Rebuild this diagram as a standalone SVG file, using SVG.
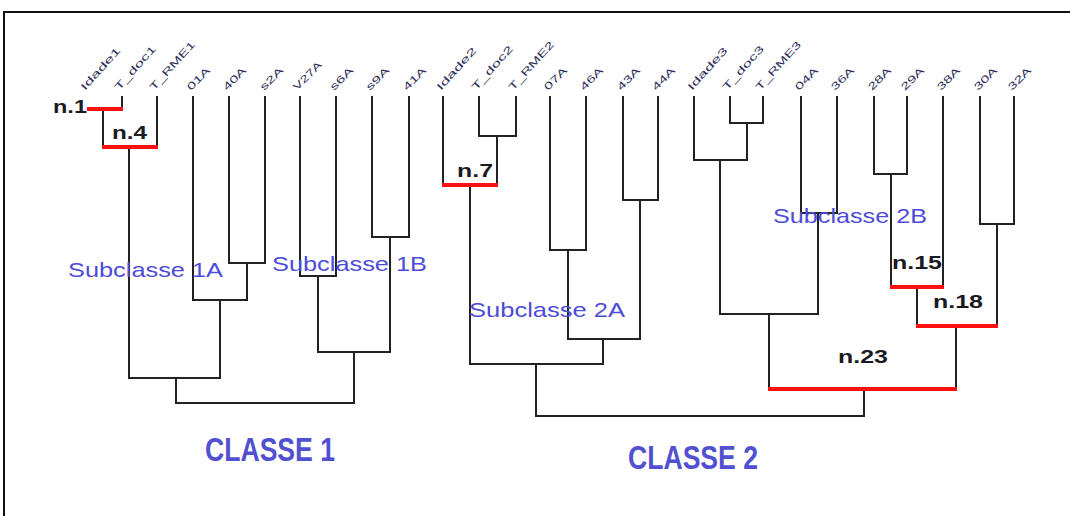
<svg xmlns="http://www.w3.org/2000/svg" width="1070" height="516" viewBox="0 0 1070 516">
<style>
.frame{fill:none;stroke:#111;stroke-width:2}
.br{fill:none;stroke:#222;stroke-width:2;stroke-linejoin:miter;stroke-linecap:square}
.red{fill:none;stroke:#ff1010;stroke-width:4}
.leaf{font-family:"Liberation Sans",Arial,sans-serif;font-size:10px;fill:#2e2e5a}
.node{font-family:"Liberation Sans",Arial,sans-serif;font-size:18px;font-weight:bold;fill:#1a1a22}
.sub{font-family:"Liberation Sans",Arial,sans-serif;font-size:21px;fill:#4c4cd8}
.cls{font-family:"Liberation Sans",Arial,sans-serif;font-size:34px;font-weight:bold;fill:#5050d0}
</style>
<rect class="frame" x="4" y="12" width="1090" height="530"/>
<g id="leaf-labels">
<g id="leaf-Idade1"><text class="leaf" transform="translate(85,91) rotate(-48)" textLength="54" lengthAdjust="spacingAndGlyphs">Idade1</text></g>
<g id="leaf-T_doc1"><text class="leaf" transform="translate(119,91) rotate(-48)" textLength="56" lengthAdjust="spacingAndGlyphs">T_doc1</text></g>
<g id="leaf-T_RME1"><text class="leaf" transform="translate(154,91) rotate(-48)" textLength="62" lengthAdjust="spacingAndGlyphs">T_RME1</text></g>
<g id="leaf-01A"><text class="leaf" transform="translate(191,91) rotate(-45)" textLength="28" lengthAdjust="spacingAndGlyphs">01A</text></g>
<g id="leaf-40A"><text class="leaf" transform="translate(227,91) rotate(-45)" textLength="28" lengthAdjust="spacingAndGlyphs">40A</text></g>
<g id="leaf-s2A"><text class="leaf" transform="translate(264,91) rotate(-45)" textLength="28" lengthAdjust="spacingAndGlyphs">s2A</text></g>
<g id="leaf-V27A"><text class="leaf" transform="translate(297,91) rotate(-45)" textLength="36" lengthAdjust="spacingAndGlyphs">V27A</text></g>
<g id="leaf-s6A"><text class="leaf" transform="translate(334,91) rotate(-45)" textLength="28" lengthAdjust="spacingAndGlyphs">s6A</text></g>
<g id="leaf-s9A"><text class="leaf" transform="translate(370,91) rotate(-45)" textLength="28" lengthAdjust="spacingAndGlyphs">s9A</text></g>
<g id="leaf-41A"><text class="leaf" transform="translate(407,91) rotate(-45)" textLength="28" lengthAdjust="spacingAndGlyphs">41A</text></g>
<g id="leaf-Idade2"><text class="leaf" transform="translate(441,91) rotate(-48)" textLength="54" lengthAdjust="spacingAndGlyphs">Idade2</text></g>
<g id="leaf-T_doc2"><text class="leaf" transform="translate(476,91) rotate(-48)" textLength="56" lengthAdjust="spacingAndGlyphs">T_doc2</text></g>
<g id="leaf-T_RME2"><text class="leaf" transform="translate(513,91) rotate(-48)" textLength="62" lengthAdjust="spacingAndGlyphs">T_RME2</text></g>
<g id="leaf-07A"><text class="leaf" transform="translate(548,91) rotate(-45)" textLength="28" lengthAdjust="spacingAndGlyphs">07A</text></g>
<g id="leaf-46A"><text class="leaf" transform="translate(584,91) rotate(-45)" textLength="28" lengthAdjust="spacingAndGlyphs">46A</text></g>
<g id="leaf-43A"><text class="leaf" transform="translate(621,91) rotate(-45)" textLength="28" lengthAdjust="spacingAndGlyphs">43A</text></g>
<g id="leaf-44A"><text class="leaf" transform="translate(656,91) rotate(-45)" textLength="28" lengthAdjust="spacingAndGlyphs">44A</text></g>
<g id="leaf-Idade3"><text class="leaf" transform="translate(692,91) rotate(-48)" textLength="54" lengthAdjust="spacingAndGlyphs">Idade3</text></g>
<g id="leaf-T_doc3"><text class="leaf" transform="translate(727,91) rotate(-48)" textLength="56" lengthAdjust="spacingAndGlyphs">T_doc3</text></g>
<g id="leaf-T_RME3"><text class="leaf" transform="translate(760,91) rotate(-48)" textLength="62" lengthAdjust="spacingAndGlyphs">T_RME3</text></g>
<g id="leaf-04A"><text class="leaf" transform="translate(799,91) rotate(-45)" textLength="28" lengthAdjust="spacingAndGlyphs">04A</text></g>
<g id="leaf-36A"><text class="leaf" transform="translate(835,91) rotate(-45)" textLength="28" lengthAdjust="spacingAndGlyphs">36A</text></g>
<g id="leaf-28A"><text class="leaf" transform="translate(872,91) rotate(-45)" textLength="28" lengthAdjust="spacingAndGlyphs">28A</text></g>
<g id="leaf-29A"><text class="leaf" transform="translate(905,91) rotate(-45)" textLength="28" lengthAdjust="spacingAndGlyphs">29A</text></g>
<g id="leaf-38A"><text class="leaf" transform="translate(941,91) rotate(-45)" textLength="28" lengthAdjust="spacingAndGlyphs">38A</text></g>
<g id="leaf-30A"><text class="leaf" transform="translate(978,91) rotate(-45)" textLength="28" lengthAdjust="spacingAndGlyphs">30A</text></g>
<g id="leaf-32A"><text class="leaf" transform="translate(1012,91) rotate(-45)" textLength="28" lengthAdjust="spacingAndGlyphs">32A</text></g>
</g>
<g id="connectors">
<path class="br" d="M122 97V109 M103 109V147 M157 97V147 M129 147V378 H220 V300 M193 97V300 H247 V263 M229 97V263 H265 V97 M176 378V403 H354 V352 M318 352H390 V237 M372 97V237 H409 V97 M318 352V276 M300 97V276 H336 V97"/>
<path class="br" d="M443 97V185 M479 97V136 H516 V97 M497 136V185 M470 185V364 H603 V339 M568 339H640 V200 M623 97V200 H658 V97 M568 339V250 M550 97V250 H586 V97 M536 364V416 H864 V389"/>
<path class="br" d="M694 97V160 H747 V123 M730 97V123 H763 V97 M720 160V314 H818 V213 M801 97V213 H837 V97 M769 314V389 M874 97V174 H907 V97 M891 174V287 M943 97V287 M917 287V326 M980 97V224 H1014 V97 M997 224V326 M956 326V389"/>
<path class="red" d="M87 109H123 M102 147H158 M442 185H498 M890 287H944 M916 326H998 M768 389H957"/>
</g>
<g id="node-n1"><text class="node" x="53" y="113" textLength="34" lengthAdjust="spacingAndGlyphs">n.1</text></g>
<g id="node-n4"><text class="node" x="112" y="139" textLength="35" lengthAdjust="spacingAndGlyphs">n.4</text></g>
<g id="node-n7"><text class="node" x="457" y="177" textLength="36" lengthAdjust="spacingAndGlyphs">n.7</text></g>
<g id="node-n15"><text class="node" x="892" y="269" textLength="50" lengthAdjust="spacingAndGlyphs">n.15</text></g>
<g id="node-n18"><text class="node" x="933" y="308" textLength="50" lengthAdjust="spacingAndGlyphs">n.18</text></g>
<g id="node-n23"><text class="node" x="838" y="363" textLength="50" lengthAdjust="spacingAndGlyphs">n.23</text></g>
<g id="sub-1A"><text class="sub" x="68" y="277" textLength="155" lengthAdjust="spacingAndGlyphs">Subclasse 1A</text></g>
<g id="sub-1B"><text class="sub" x="272" y="271" textLength="155" lengthAdjust="spacingAndGlyphs">Subclasse 1B</text></g>
<g id="sub-2A"><text class="sub" x="469" y="317" textLength="156" lengthAdjust="spacingAndGlyphs">Subclasse 2A</text></g>
<g id="sub-2B"><text class="sub" x="773" y="223" textLength="154" lengthAdjust="spacingAndGlyphs">Subclasse 2B</text></g>
<g id="class-1"><text class="cls" x="205" y="461" textLength="130" lengthAdjust="spacingAndGlyphs">CLASSE 1</text></g>
<g id="class-2"><text class="cls" x="628" y="469" textLength="130" lengthAdjust="spacingAndGlyphs">CLASSE 2</text></g>
</svg>
